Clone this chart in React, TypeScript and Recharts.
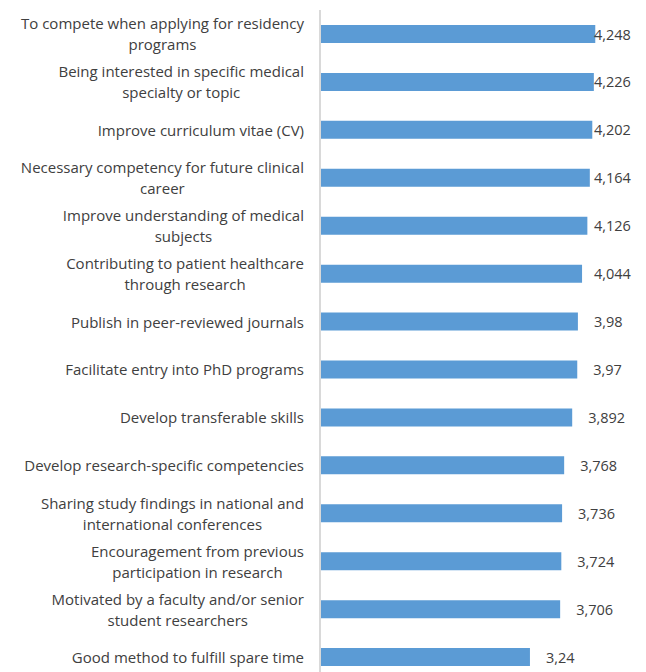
import React from "react"
import { BarChart, Bar, XAxis, YAxis, LabelList } from "recharts"

// category labels, with the line breaks as they appear in the picture
const categories = [
  "To compete when applying for residency\nprograms",
  "Being interested in specific medical\nspecialty or topic",
  "Improve curriculum vitae (CV)",
  "Necessary competency for future clinical\ncareer",
  "Improve understanding of medical\nsubjects",
  "Contributing to patient healthcare\nthrough research",
  "Publish in peer-reviewed journals",
  "Facilitate entry into PhD programs",
  "Develop transferable skills",
  "Develop research-specific competencies",
  "Sharing study findings in national and\ninternational conferences",
  "Encouragement from previous\nparticipation in research",
  "Motivated by a faculty and/or senior\nstudent researchers",
  "Good method to fulfill spare time",
]

const scores = [4.248, 4.226, 4.202, 4.164, 4.126, 4.044, 3.98, 3.97, 3.892, 3.768, 3.736, 3.724, 3.706, 3.24]

const data = categories.map((name, i) => ({ name, score: scores[i] }))

const FONT = "'Open Sans', 'Noto Sans', sans-serif"
const TEXT = "#404040"
const CAT_SIZE = 15

let ctx: CanvasRenderingContext2D | null = null
const measure = (s: string) => {
  if (!ctx) ctx = document.createElement("canvas").getContext("2d")
  if (!ctx) return s.length * 7.5
  ctx.font = `${CAT_SIZE}px "Open Sans"`
  return ctx.measureText(s).width
}

const CategoryTick = (props: any) => {
  const { x, y, payload } = props
  const lines: string[] = String(payload.value).split("\n")
  const w = Math.max(...lines.map(measure))
  const cx = x - w / 2
  const lh = 21
  const start = y - ((lines.length - 1) * lh) / 2
  return (
    <g>
      {lines.map((l, i) => (
        <text
          key={i}
          x={cx}
          y={start + i * lh}
          textAnchor="middle"
          dominantBaseline="central"
          fill={TEXT}
          fontSize={CAT_SIZE}
          fontFamily={FONT}
        >
          {l}
        </text>
      ))}
    </g>
  )
}

const ValueLabel = (props: any) => {
  const { x, y, width, height, value } = props
  const tx = Math.min(x + width + 16, 594)
  return (
    <text
      x={tx}
      y={y + height / 2}
      dominantBaseline="central"
      fill={TEXT}
      fontSize={14.5}
      fontFamily={FONT}
    >
      {String(value).replace(".", ",")}
    </text>
  )
}

export default function App() {
  return (
    <div style={{ position: "fixed", left: 0, top: 0, width: 646, height: 672, overflow: "hidden", background: "#fff" }}>
      <BarChart
        width={646}
        height={681}
        data={data}
        layout="vertical"
        margin={{ top: 10, right: 2, bottom: 0, left: 0 }}
      >
        <XAxis type="number" domain={[0, 5]} hide />
        <YAxis
          type="category"
          dataKey="name"
          width={320}
          tickLine={false}
          tickSize={0}
          tickMargin={16}
          axisLine={{ stroke: "#d9d9d9", strokeWidth: 2 }}
          tick={<CategoryTick />}
          interval={0}
        />
        <Bar dataKey="score" fill="#5b9bd5" barSize={18} isAnimationActive={false}>
          <LabelList dataKey="score" content={<ValueLabel />} />
        </Bar>
      </BarChart>
    </div>
  )
}
